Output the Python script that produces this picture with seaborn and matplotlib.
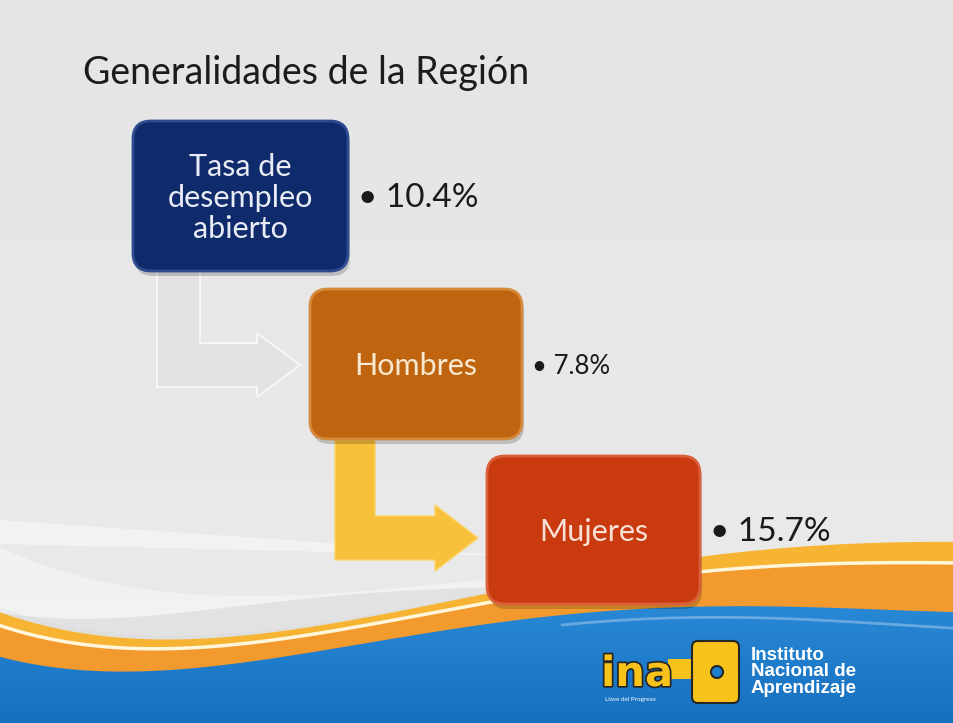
import numpy as np
import pandas as pd
import seaborn as sns
import matplotlib.pyplot as plt
from matplotlib.patches import FancyBboxPatch, Polygon, Circle, Rectangle
import matplotlib.patheffects as pe

sns.set_theme(style="white")
plt.rcParams['font.family'] = ['Lato', 'DejaVu Sans']

title = "Generalidades de la Región"
labels = ["Tasa de\ndesempleo\nabierto", "Hombres", "Mujeres"]
values = [10.4, 7.8, 15.7]
box_colors = ["#0f2b6c", "#c0650f", "#c93b0f"]
box_edges = ["#2d4b8e", "#d58a3c", "#d9603a"]
text_colors = ["#e9ecf4", "#f8e8d0", "#f8e0d6"]

df = pd.DataFrame({"label": labels, "value": values,
                   "x": [133, 310, 487], "y": [121, 289, 456],
                   "w": [215, 212, 213], "h": [150, 150, 148],
                   "vsize": [24, 18.5, 24]})

fig = plt.figure(figsize=(9.54, 7.23), dpi=100)
ax = fig.add_axes([0, 0, 1, 1])
ax.set_xlim(0, 954)
ax.set_ylim(723, 0)
ax.axis("off")

# background
grad = np.linspace(0, 1, 256).reshape(-1, 1)
ax.imshow(grad, extent=[0, 954, 723, 0], cmap=sns.blend_palette(["#e5e5e5", "#ebebeb"], as_cmap=True),
          aspect="auto", zorder=0)

xs = np.linspace(0, 954, 400)


def smooth(px, py, deg=4):
    return np.polyval(np.polyfit(px, py, deg), xs)


blue_top = smooth([0, 150, 300, 450, 600, 800, 954], [657, 670, 656, 628, 612, 607, 612])
orange_top = smooth([0, 150, 300, 450, 600, 750, 954], [612, 640, 628, 600, 574, 550, 542])
white_line = orange_top + 0.3 * (blue_top - orange_top)

# light swooshes, tapering to nothing on the right
fade = np.clip(1 - xs / 620, 0, 1)
ax.fill_between(xs, orange_top - 65 * fade, orange_top - 5 * fade, color="white", alpha=0.4, lw=0, zorder=1)
streak = 520 + xs * 0.07
ax.fill_between(xs, streak, streak + 24 * np.clip(1 - xs / 520, 0, 1), color="white", alpha=0.45, lw=0, zorder=1)
lens = 30 * np.sin(np.pi * np.clip(xs / 520, 0, 1))
ax.fill_between(xs, orange_top - lens, orange_top, color="#d4d4d4", alpha=0.5, lw=0, zorder=1)

# orange wave
ax.fill_between(xs, orange_top, white_line, color="#f6b432", lw=0, zorder=2)
ax.fill_between(xs, white_line, blue_top + 2, color="#f29a2e", lw=0, zorder=2)
ax.plot(xs, white_line, color="#fff6dc", lw=2.5, zorder=3)

# blue band with gradient
blue_poly = Polygon(np.column_stack([np.r_[xs, xs[::-1]], np.r_[blue_top, np.full_like(xs, 723)]]),
                    closed=True, facecolor="none", edgecolor="none")
ax.add_patch(blue_poly)
bim = ax.imshow(grad, extent=[0, 954, 723, 600],
                cmap=sns.blend_palette(["#2a8ad6", "#1670c0"], as_cmap=True), aspect="auto", zorder=3)
bim.set_clip_path(blue_poly)
ax.plot(xs[xs > 560], (blue_top + 10 + 0.00004 * (xs - 560) ** 2)[xs > 560], color="white",
        alpha=0.3, lw=2, zorder=4)

# arrows
gray_arrow = [(157, 270), (200, 270), (200, 343), (257, 343), (257, 333), (300, 365),
              (257, 397), (257, 387), (157, 387)]
ax.add_patch(Polygon(gray_arrow, closed=True, facecolor="#e3e3e3", edgecolor="#f6f6f6", lw=1.5, zorder=5))
yellow_arrow = [(335, 438), (375, 438), (375, 516), (435, 516), (435, 505), (478, 538),
                (435, 571), (435, 560), (335, 560)]
ax.add_patch(Polygon(yellow_arrow, closed=True, facecolor="#f8c13c", edgecolor="#fbd468", lw=1, zorder=5))

# boxes
for i, r in df.iterrows():
    ax.add_patch(FancyBboxPatch((r.x + 2, r.y + 5), r.w, r.h, boxstyle="round,pad=0,rounding_size=18",
                                facecolor="black", alpha=0.18, lw=0, zorder=6))
    ax.add_patch(FancyBboxPatch((r.x, r.y), r.w, r.h, boxstyle="round,pad=0,rounding_size=18",
                                facecolor=box_colors[i], edgecolor=box_edges[i], lw=2, zorder=7))
    ax.text(r.x + r.w / 2, r.y + r.h / 2 + 2, r.label, ha="center", va="center", fontsize=22,
            color=text_colors[i], linespacing=1.15, zorder=8)
    ax.text(r.x + r.w + 10, r.y + r.h / 2 + 2, f"\u2022 {r.value}%", ha="left", va="center",
            fontsize=r.vsize, color="#1a1a1a", zorder=8)

ax.text(83, 73, title, ha="left", va="center", fontsize=27, color="#1c1c1c", zorder=8)

# logo
ax.add_patch(Rectangle((668, 659), 26, 20, facecolor="#f7c21a", edgecolor="none", zorder=9))
ax.add_patch(FancyBboxPatch((692, 641), 47, 62, boxstyle="round,pad=0,rounding_size=6",
                            facecolor="#f7c21a", edgecolor="#262626", lw=1.5, zorder=9))
ax.add_patch(Circle((717, 672), 6, facecolor="#1f7fcf", edgecolor="#262626", lw=1.5, zorder=10))
ax.text(601, 686, "ina", fontsize=30, fontweight="bold", color="#f7c21a", family="DejaVu Sans",
        zorder=10, path_effects=[pe.withStroke(linewidth=2.5, foreground="#262626")])
ax.text(605, 700, "Llave del Progreso", fontsize=4.5, color="white", va="center", zorder=10)
ax.text(751, 672, "Instituto\nNacional de\nAprendizaje", fontsize=13.5, fontweight="bold", color="white",
        family="Liberation Sans", va="center", ha="left", linespacing=0.95, zorder=10)

fig.savefig("out.png", dpi=100)
